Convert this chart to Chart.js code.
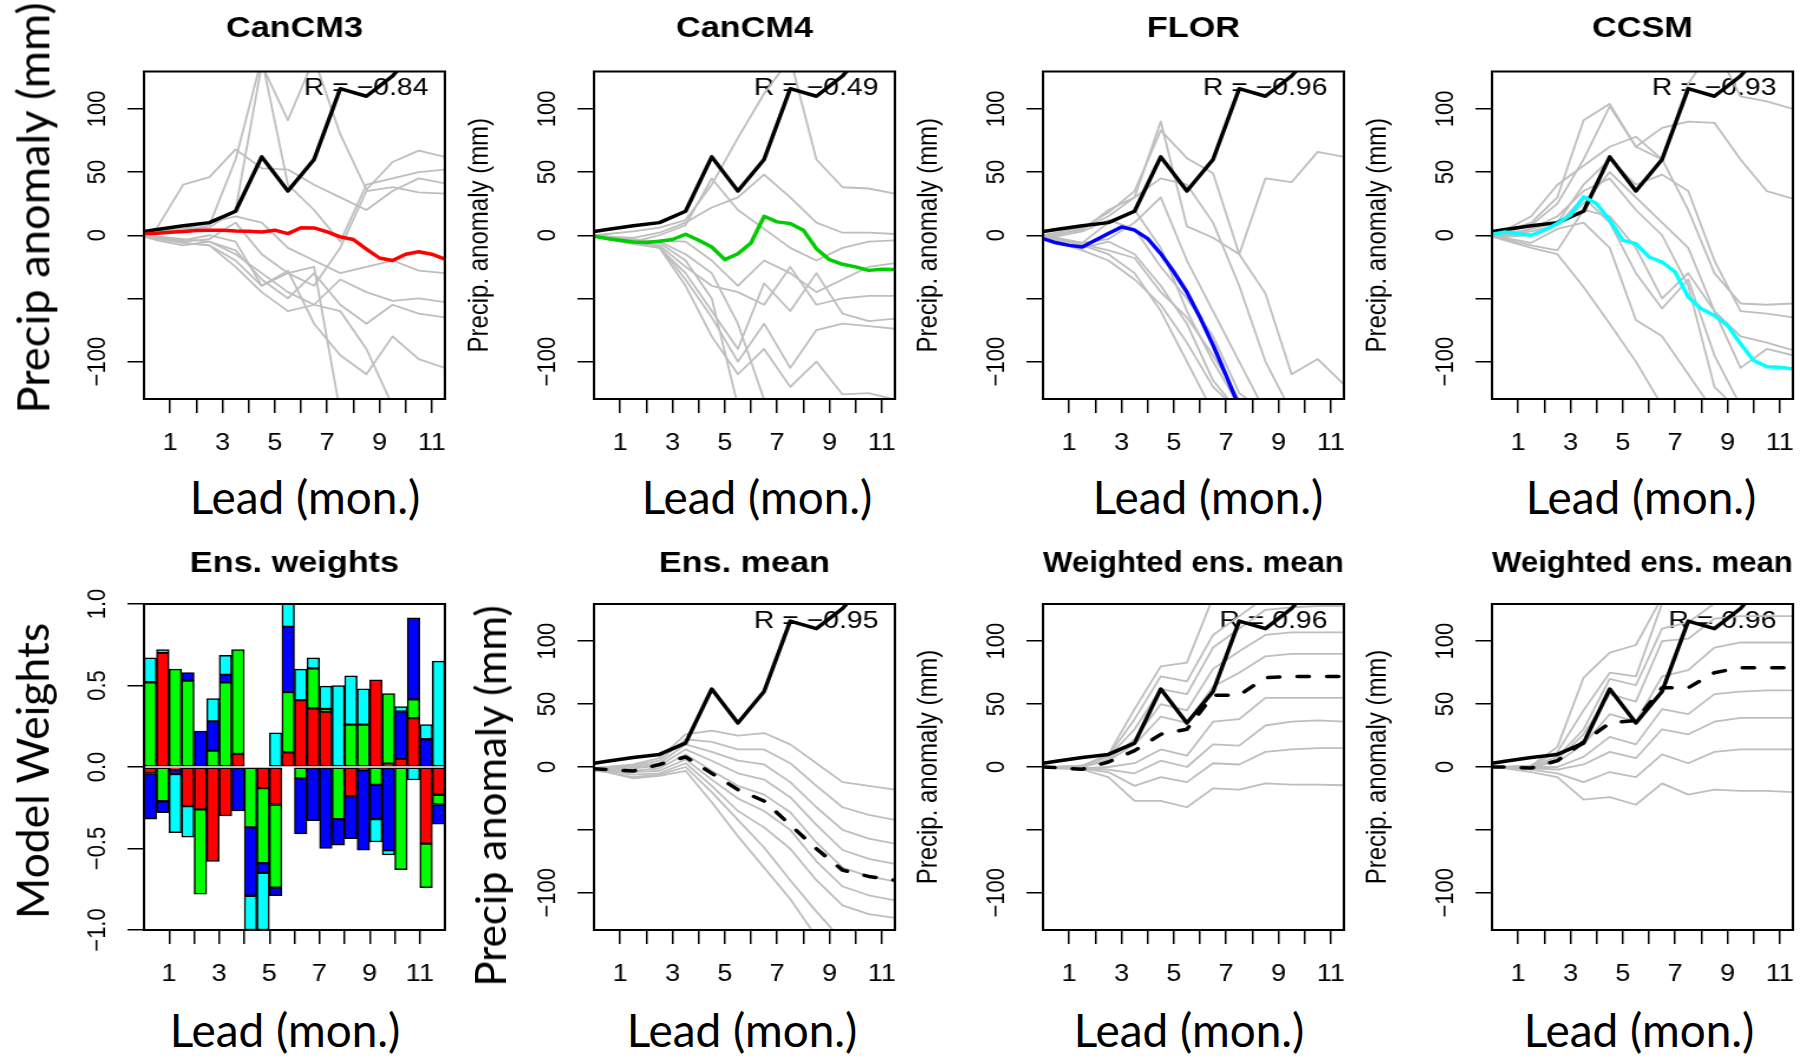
<!DOCTYPE html>
<html>
<head>
<meta charset="utf-8">
<script src="https://cdn.jsdelivr.net/npm/chart.js@4.4.1/dist/chart.umd.min.js"></script>
<style>
  html, body { margin: 0; padding: 0; background: #fff; }
  #page { position: relative; width: 1809px; height: 1058px; overflow: hidden; background: #fff; }
  .panel { position: absolute; transform-origin: 0 0; }
  .panel canvas { display: block; }
  .biglab { position: absolute; font-family: Lato, 'Open Sans', sans-serif; color: #000; white-space: nowrap; line-height: 1; }
</style>
</head>
<body>
<div id="page"></div>
<script>
// lead times (months)
const leads = [0, 0.5, 1.5, 2.5, 3.5, 4.5, 5.5, 6.5, 7.5, 8.5, 9.5, 10.5, 11.5];
const leadsHalf = [0, 0.5, 1, 1.5, 2, 2.5, 3, 3.5, 4, 4.5, 5, 5.5, 6, 6.5, 7, 7.5, 8, 8.5, 9, 9.5, 10, 10.5, 11, 11.5];
const barLeads = [0.25, 0.75, 1.25, 1.75, 2.25, 2.75, 3.25, 3.75, 4.25, 4.75, 5.25, 5.75,
                  6.25, 6.75, 7.25, 7.75, 8.25, 8.75, 9.25, 9.75, 10.25, 10.75, 11.25, 11.75];
const xTicks = [1, 2, 3, 4, 5, 6, 7, 8, 9, 10, 11];
const precipTicks = [-100, -50, 0, 50, 100];
const precipTickLabels = ['\u2212100', '', '0', '50', '100'];
const weightTicks = [-1, -0.5, 0, 0.5, 1];
const weightTickLabels = ['\u22121.0', '\u22120.5', '0.0', '0.5', '1.0'];

// observed precip anomaly (mm)
const observed = [3, 4.5, 7.5, 10, 19, 62, 35, 60, 116, 110, 126, 150, 165];

// model ensemble means (half-month steps)
const cancm3Mean = [1.3, 1.6, 2.4, 2.9, 3.7, 4, 4, 3.4, 3.2, 2.6, 4, 1.3, 6, 5.8, 2.6, -1.3, -3.4, -11, -18, -20, -15, -13, -15, -19];
const cancm4Mean = [-0.8, -2.6, -4, -5.3, -5.8, -4.8, -3.4, 0.8, -4, -9.3, -19.3, -14.6, -6.1, 15, 10.6, 9.3, 4, -10.6, -19.3, -23, -25, -27.8, -27, -27.2];
const florMean = [-2.6, -6, -8, -9.3, -4, 1.3, 6.6, 4, -2.6, -14.6, -29, -45, -65, -87, -111, -136, null, null, null, null, null, null, null, null];
const ccsmMean = [0.8, 2.6, 1.3, 0, 4, 9.3, 15.9, 30.4, 25, 11.9, -4, -6.6, -17.2, -21.2, -29.1, -48.9, -58.2, -63.5, -71.4, -85.9, -99.2, -104, -104.5, -105.8];

// ensemble members
const cancm3Members = [
  [1, 6, 40, 46, 68, 53, 52, 40, 30, 20, 35, 45, 41],
  [0, 3, 5, 6, 20, 135, 91, 140, 80, 36, 58, 67, 62],
  [2, 4, 3, 8, 60, 140, 40, 20, -5, 40, 45, 50, 52],
  [0, -2, -5, -3, 10, -15, -30, -40, -10, 35, 38, 34, 33],
  [0, -3, -6, -8, -25, -45, -60, -55, -35, -45, -52, -50, -53],
  [-1, -4, -8, -5, -12, -35, -50, -30, -55, -70, -55, -62, -65],
  [0, -2, -4, 0, -5, -40, -28, -70, -95, -110, -80, -98, -105],
  [0, -2, -6, -8, -20, -40, -30, -25, -140, null, null, null, null],
  [0, -1, -3, -5, -15, -30, -45, -55, -60, -90, -135, null, null],
  [1, 2, 5, 10, 15, 10, -10, -20, -30, -25, -20, -28, -30]
];
const cancm4Members = [
  [0, 1, 3, 6, 12, 40, 77, 112, 140, 60, 38, 37, 33],
  [0, -1, -2, 2, 10, 22, 30, 48, 30, 10, 2, 2, 1],
  [-1, -2, -5, 0, 8, 45, 20, 5, -10, -20, -10, -5, -4],
  [0, -2, -6, -4, -5, -20, -40, -20, -30, -45, -35, -25, -22],
  [0, -1, -4, -8, -25, -40, -45, -55, -25, -55, -50, -48, -48],
  [-1, -3, -7, -10, -30, -60, -90, -38, -60, -30, -62, -68, -66],
  [0, -2, -5, -9, -35, -65, -100, -70, -105, -75, -70, -72, -74],
  [0, -2, -4, -6, -20, -50, -135, null, null, null, null, null, null],
  [-1, -3, -6, -10, -40, -80, -110, -90, -120, -100, -126, -125, -130],
  [0, -1, -3, -5, -15, -30, -70, -130, null, null, null, null, null]
];
const florMembers = [
  [0, 2, 6, 18, 35, 83, 61, 49, -15, 45, 42, 66, 62],
  [0, 1, 4, 20, 30, 90, 7, -2, -15, -46, -110, -98, -118],
  [0, -2, -6, -3, 10, 30, -20, -60, -100, -140, null, null, null],
  [-1, -4, -10, -5, -15, -40, -70, -115, -140, null, null, null, null],
  [0, -2, -6, 10, 20, -10, -60, -100, -135, null, null, null, null],
  [0, -1, 3, 12, 5, -25, -50, -80, -125, -140, null, null, null],
  [0, -3, -8, -15, -30, -60, -100, -140, null, null, null, null, null],
  [-1, -5, -12, -20, -35, -55, -85, -120, -140, null, null, null, null],
  [0, 0, 5, 15, 30, 45, 40, 10, -40, -100, -140, null, null],
  [0, -2, -7, -12, -18, -45, -65, -95, -130, null, null, null, null]
];
const ccsmMembers = [
  [0, 3, 10, 30, 91, 104, 70, 60, 120, 150, 110, 106, 100],
  [0, 2, 8, 25, 60, 102, 70, 85, 90, 89, 60, 35, 29],
  [1, 4, 15, 40, 55, 70, 78, 60, 20, -30, -54, -55, -54],
  [0, -2, 5, 10, 40, 60, 40, 48, 35, -20, -60, -62, -65],
  [0, -3, -8, -12, 20, 15, -10, -50, -30, -60, -80, -85, -91],
  [0, 0, 3, 8, 30, 10, -30, -58, -35, -95, -135, null, null],
  [-1, -4, -10, -15, -41, -70, -100, -135, null, null, null, null, null],
  [0, -2, -6, 5, 10, -10, -67, -80, -110, -140, null, null, null],
  [0, 1, 5, 15, 35, 45, 20, 0, -40, -120, -140, null, null],
  [0, -1, 0, 8, 25, 50, 30, 10, -10, -60, -105, -90, -95]
];

// ensemble weights per half-month lead
const wCanCM3 = [-0.04, 0.70, -0.016, -0.24, -0.26, -0.58, -0.30, 0.08, 0, -0.13, -0.23, 0.09,
                 0.41, 0.36, 0.34, 0, -0.18, -0.02, 0.535, 0.02, 0.05, 0.30, -0.47, -0.17];
const wCanCM4 = [0.52, -0.21, 0.60, 0.53, -0.52, 0.10, 0.52, 0.64, -0.37, -0.46, -0.51, 0.37,
                 -0.07, 0.245, 0.016, -0.32, 0.26, 0.26, -0.11, 0.43, -0.63, 0.115, -0.27, -0.06];
const wFLOR = [-0.28, -0.07, -0.027, 0.05, 0.22, 0.18, 0.045, -0.27, -0.42, -0.06, -0.05, 0.40,
               -0.34, -0.33, -0.50, -0.16, -0.26, -0.49, -0.21, -0.51, 0.29, 0.50, 0.17, -0.12];
const wCCSM = [0.15, 0.02, -0.36, -0.19, 0, 0.14, 0.12, 0, -0.21, -0.35, 0.21, 0.15,
               0.19, 0.065, 0.14, 0.50, 0.30, 0.22, -0.14, -0.03, 0.03, -0.08, 0.09, 0.65];

// combined forecasts
const ensMean = [-1.3, -2, -3.2, 2, 8, -5, -18, -27, -46, -65, -82, -87, -90];
const ensMembers = [
  [-1, 0, 2, 7, 26, 29, 25, 27, 18, 3, -12, -15, -18],
  [-1, 0, 1, 5, 22, 20, 14, 14, 3, -15, -32, -38, -42],
  [-1, -1, 0, 3, 18, 12, 5, 2, -12, -32, -50, -57, -61],
  [-2, -1, -1, 1, 14, 5, -5, -10, -24, -46, -66, -73, -77],
  [-2, -2, -3, -1, 10, -3, -15, -22, -36, -60, -80, -87, -91],
  [-2, -3, -4, -3, 6, -10, -25, -35, -50, -75, -95, -102, -106],
  [-2, -3, -6, -5, 3, -15, -35, -48, -65, -90, -110, -117, -120],
  [-2, -4, -8, -6, 0, -20, -42, -64, -90, -115, -138, null, null],
  [-3, -4, -9, -7, -3, -28, -55, -80, -105, -135, null, null, null]
];
const wMeanA = [0, -0.5, -1.8, 4, 13, 26, 30, 57, 57, 71, 72, 72, 72];
const wMembersA = [
  [0, 0, 1, 10, 46, 80, 83, 135, null, null, null, null, null],
  [0, 0, 1, 9, 38, 72, 68, 105, 120, 135, null, null, null],
  [0, 0, 1, 8, 30, 62, 58, 95, 110, 125, 127, 128, 128],
  [0, 0, 0, 6, 22, 50, 45, 78, 92, 105, 107, 107, 107],
  [0, 0, 0, 5, 18, 40, 35, 64, 75, 88, 90, 90, 90],
  [0, 0, -1, 0, 3, 14, 9, 36, 38, 55, 55, 55, 55],
  [0, 0, -1, -2, -5, 5, 0, 18, 17, 33, 36, 37, 36],
  [0, -0.5, -1.5, -4, -15, -8, -12, 3, 2, 12, 14, 15, 15],
  [0, -1, -2, -8, -27, -27, -32, -17, -18, -13, -14, -14, -14.5]
];
const wMeanB = [0, 0, -0.8, 5, 20, 35, 37, 63, 63, 75, 79, 79, 79];
const wMembersB = [
  [0, 0, 1, 16, 71, 91, 97, 135, null, null, null, null, null],
  [0, 0, 1, 12, 45, 75, 72, 130, null, null, null, null, null],
  [0, 0, 1, 8, 30, 70, 65, 110, 115, 130, 135, null, null],
  [0, 0, 0, 6, 26, 58, 52, 100, 102, 118, 120, 120, 120],
  [0, 0, 0, 4, 18, 42, 36, 72, 77, 95, 99, 99, 99],
  [0, 0, 0, 0, 8, 24, 18, 46, 42, 58, 60, 61, 61],
  [0, 0, -1, -2, 2, 12, 7, 30, 26, 36, 39, 39, 39],
  [0, -0.5, -2, -5, -12, -4, -8, 10, 3, 12, 14, 14, 14],
  [0, -1, -4, -8, -26, -24, -30, -13, -22, -18, -19, -19, -20]
];

const SX = 1.18; // the R panels are stretched sideways in the figure
const FONT = "'Liberation Sans', Arial, sans-serif";
const page = document.getElementById('page');

function pts(xs, ys) {
  return ys.map((y, i) => ({x: xs[i], y: y}));
}

// box round the plot, rotated y tick labels, R value
const rFrame = {
  id: 'rframe',
  beforeDatasetsDraw(chart, args, opts) {
    if (!opts.rText) return;
    const {ctx, chartArea: a} = chart;
    ctx.save();
    ctx.font = '24px ' + FONT;
    ctx.fillStyle = '#000';
    ctx.textAlign = 'right';
    ctx.textBaseline = 'middle';
    ctx.fillText(opts.rText, a.right - 14, a.top + 17);
    ctx.restore();
  },
  afterDraw(chart, args, opts) {
    const {ctx, chartArea: a} = chart;
    const y = chart.scales.y;
    ctx.save();
    ctx.strokeStyle = '#000';
    ctx.lineWidth = 2;
    ctx.strokeRect(a.left, a.top, a.right - a.left, a.bottom - a.top);
    ctx.font = '22px ' + FONT;
    ctx.fillStyle = '#000';
    ctx.textAlign = 'center';
    ctx.textBaseline = 'middle';
    opts.tickValues.forEach((v, i) => {
      const label = opts.tickLabels[i];
      if (!label) return;
      ctx.save();
      ctx.translate(a.left - 39, y.getPixelForValue(v));
      ctx.rotate(-Math.PI / 2);
      ctx.fillText(label, 0, 0);
      ctx.restore();
    });
    ctx.restore();
  }
};

function frameOptions(p, xmax, ymin, ymax, yTicks, yLabels) {
  return {
    responsive: false,
    animation: false,
    events: [],
    layout: {padding: {left: 0, right: 22, top: 0, bottom: 0}},
    elements: {
      point: {radius: 0},
      line: {tension: 0, borderCapStyle: 'round', borderJoinStyle: 'round'}
    },
    plugins: {
      legend: {display: false},
      tooltip: {enabled: false},
      title: {
        display: true, text: p.title, fullSize: false, color: '#000',
        font: {family: FONT, size: 29, weight: 'bold'},
        padding: {top: 0, bottom: p.titleGap}
      },
      rframe: {rText: p.r, tickValues: yTicks, tickLabels: yLabels}
    },
    scales: {
      x: {
        type: 'linear', min: 0, max: xmax, offset: false, stacked: p.stacked,
        afterBuildTicks: s => { s.ticks = xTicks.map(v => ({value: v})); },
        afterFit: s => { s.height = 70; },
        grid: {drawOnChartArea: false, tickLength: 14, color: '#000', lineWidth: 1.5, offset: false},
        border: {display: false},
        ticks: {
          autoSkip: false, maxRotation: 0, minRotation: 0, padding: 17, color: '#000',
          font: {family: FONT, size: 23},
          callback: v => (v % 2 === 1 ? String(v) : '')
        }
      },
      y: {
        type: 'linear', min: ymin, max: ymax, stacked: p.stacked,
        afterBuildTicks: s => { s.ticks = yTicks.map(v => ({value: v})); },
        afterFit: s => { s.width = 111; },
        grid: {drawOnChartArea: false, tickLength: 14, color: '#000', lineWidth: 1.5},
        border: {display: false},
        ticks: {display: false},
        title: {
          display: !!p.ylab, text: p.ylab || '', color: '#000',
          font: {family: FONT, size: 24}, padding: 0
        }
      }
    }
  };
}

function addCanvas(p) {
  const wrap = document.createElement('div');
  wrap.className = 'panel';
  wrap.style.left = (p.left - 111 * SX) + 'px';
  wrap.style.top = p.top + 'px';
  wrap.style.transform = 'scaleX(' + SX + ')';
  const canvas = document.createElement('canvas');
  canvas.width = 388;
  canvas.height = p.height;
  wrap.appendChild(canvas);
  page.appendChild(wrap);
  return canvas;
}

function linePanel(p) {
  const canvas = addCanvas(p);
  const datasets = [];
  datasets.push({
    data: pts(p.meanX, p.mean), borderColor: p.meanColor, borderWidth: 3.5,
    borderDash: p.dashed ? [10, 15] : []
  });
  datasets.push({data: pts(leads, observed), borderColor: '#000', borderWidth: 3.5});
  p.members.forEach(m => {
    datasets.push({data: pts(leads, m), borderColor: '#BEBEBE', borderWidth: 1.8});
  });
  new Chart(canvas, {
    type: 'line',
    data: {datasets: datasets},
    options: frameOptions(p, 11.5, -129.6, 129.6, precipTicks, precipTickLabels),
    plugins: [rFrame]
  });
}

function weightsPanel(p) {
  const canvas = addCanvas(p);
  const series = [
    {label: 'CanCM3', data: wCanCM3, color: '#FF0000'},
    {label: 'CanCM4', data: wCanCM4, color: '#00FF00'},
    {label: 'FLOR', data: wFLOR, color: '#0000FF'},
    {label: 'CCSM', data: wCCSM, color: '#00FFFF'}
  ];
  new Chart(canvas, {
    type: 'bar',
    data: {
      datasets: series.map(s => ({
        label: s.label, data: pts(barLeads, s.data), backgroundColor: s.color,
        borderColor: '#000', borderWidth: 1.5, borderSkipped: false,
        barPercentage: 1, categoryPercentage: 1
      }))
    },
    options: frameOptions(p, 12, -1, 1, weightTicks, weightTickLabels),
    plugins: [rFrame]
  });
}

const cols = [144.3, 594, 1043.3, 1492.3];
const topRow = {top: 11.5, height: 457, titleGap: 24.7};
const botRow = {top: 547, height: 453, titleGap: 22.2};
const smallYlab = 'Precip. anomaly (mm)';

linePanel(Object.assign({left: cols[0], title: 'CanCM3', r: 'R = \u22120.84', mean: cancm3Mean, meanX: leadsHalf, meanColor: '#FF0000', members: cancm3Members}, topRow));
linePanel(Object.assign({left: cols[1], title: 'CanCM4', ylab: smallYlab, r: 'R = \u22120.49', mean: cancm4Mean, meanX: leadsHalf, meanColor: '#00CD00', members: cancm4Members}, topRow));
linePanel(Object.assign({left: cols[2], title: 'FLOR', ylab: smallYlab, r: 'R = \u22120.96', mean: florMean, meanX: leadsHalf, meanColor: '#0000FF', members: florMembers}, topRow));
linePanel(Object.assign({left: cols[3], title: 'CCSM', ylab: smallYlab, r: 'R = \u22120.93', mean: ccsmMean, meanX: leadsHalf, meanColor: '#00FFFF', members: ccsmMembers}, topRow));

weightsPanel(Object.assign({left: cols[0], title: 'Ens. weights', stacked: true}, botRow));
linePanel(Object.assign({left: cols[1], title: 'Ens. mean', r: 'R = \u22120.95', mean: ensMean, meanX: leads, meanColor: '#000', dashed: true, members: ensMembers}, botRow));
linePanel(Object.assign({left: cols[2], title: 'Weighted ens. mean', ylab: smallYlab, r: 'R = 0.96', mean: wMeanA, meanX: leads, meanColor: '#000', dashed: true, members: wMembersA}, botRow));
linePanel(Object.assign({left: cols[3], title: 'Weighted ens. mean', ylab: smallYlab, r: 'R = 0.96', mean: wMeanB, meanX: leads, meanColor: '#000', dashed: true, members: wMembersB}, botRow));

// large labels that were added on top of the R panels
function bigLabel(text, cx, cy, len, rotated) {
  const el = document.createElement('div');
  el.className = 'biglab';
  el.textContent = text;
  el.style.fontSize = '40px';
  page.appendChild(el);
  const w = el.getBoundingClientRect().width;
  el.style.fontSize = (40 * len / w).toFixed(1) + 'px';
  el.style.left = cx + 'px';
  el.style.top = cy + 'px';
  el.style.transform = 'translate(-50%, -50%)' + (rotated ? ' rotate(-90deg)' : '');
}

bigLabel('Precip anomaly (mm)', 32, 208, 411, true);
bigLabel('Model Weights', 32, 771, 296, true);
bigLabel('Precip anomaly (mm)', 490, 796, 381, true);
[305, 757, 1208, 1641].forEach(x => bigLabel('Lead (mon.)', x, 497, 231, false));
[285, 742, 1189, 1639].forEach(x => bigLabel('Lead (mon.)', x, 1030, 231, false));
</script>
</body>
</html>
